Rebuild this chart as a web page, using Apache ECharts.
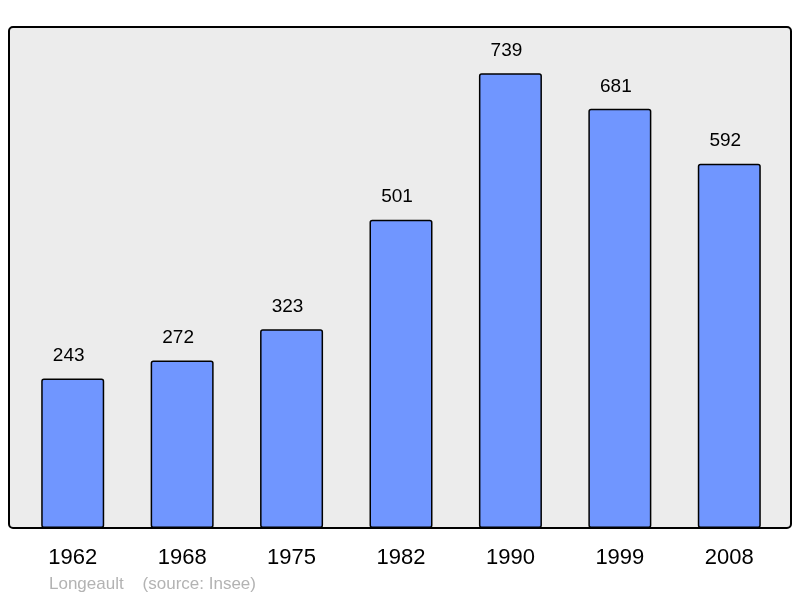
<!DOCTYPE html>
<html>
<head>
<meta charset="utf-8">
<script src="https://cdn.jsdelivr.net/npm/echarts@6/dist/echarts.min.js"></script>
<style>
html,body{margin:0;padding:0;background:#fff;}
#chart{width:800px;height:598px;}
</style>
</head>
<body>
<div id="chart"></div>
<script>
// population par recensement
var years = ['1962', '1968', '1975', '1982', '1990', '1999', '2008'];
var population = [243, 272, 323, 501, 739, 681, 592];
var footer = 'Longeault    (source: Insee)';

var chart = echarts.init(document.getElementById('chart'));
var option = {
    animation: false,
    graphic: [
        {
            type: 'rect',
            z: -10,
            shape: { x: 9, y: 27, width: 782, height: 501, r: 4 },
            style: { fill: '#ececec', stroke: '#000', lineWidth: 2 }
        },
        {
            type: 'text',
            left: 49,
            top: 576,
            style: {
                text: footer,
                fill: '#b3b3b3',
                font: '17px "Liberation Sans", Arial, sans-serif'
            }
        }
    ],
    grid: {
        left: 18,
        right: 16,
        top: 27,
        bottom: 70
    },
    xAxis: {
        type: 'category',
        data: years,
        axisLine: { show: false },
        axisTick: { show: false },
        axisLabel: {
            color: '#000',
            fontSize: 22,
            fontFamily: 'Liberation Sans',
            margin: 19
        }
    },
    yAxis: {
        type: 'value',
        min: 0,
        max: 814,
        show: false,
        splitLine: { show: false }
    },
    series: [
        {
            type: 'bar',
            data: population,
            barWidth: 63,
            itemStyle: {
                color: '#7096ff',
                borderColor: '#000',
                borderWidth: 1.5,
                borderRadius: 2
            },
            label: {
                show: true,
                position: 'top',
                distance: 13,
                offset: [-4, 0],
                color: '#000',
                fontSize: 19,
                fontFamily: 'Liberation Sans'
            }
        }
    ]
};
chart.setOption(option);
</script>
</body>
</html>
